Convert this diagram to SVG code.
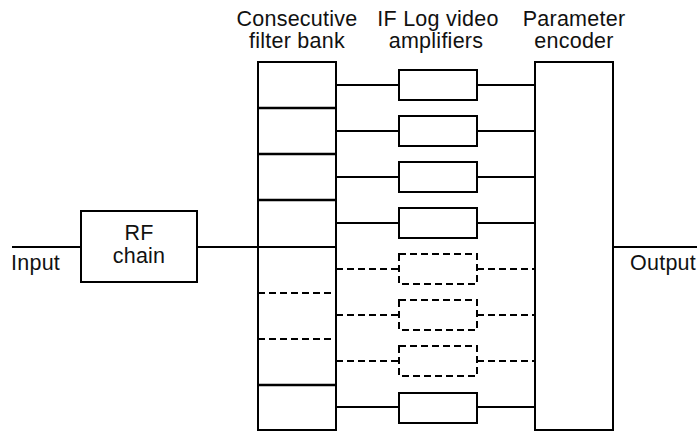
<svg xmlns="http://www.w3.org/2000/svg" width="697" height="432" viewBox="0 0 697 432">
<style>
.box{fill:#fff;stroke:#000;stroke-width:2}
.dbox{fill:#fff;stroke:#000;stroke-width:2;stroke-dasharray:7,4}
.ln{fill:none;stroke:#000;stroke-width:1.8}
.dln{fill:none;stroke:#000;stroke-width:1.8;stroke-dasharray:7,4}
.div{fill:none;stroke:#000;stroke-width:2.6}
.ddiv{fill:none;stroke:#000;stroke-width:2;stroke-dasharray:7,4}
text{font-family:"Liberation Sans",Arial,sans-serif;font-size:21.5px;letter-spacing:0.25px;fill:#111}
.c{text-anchor:middle}
</style>
<rect width="697" height="432" fill="#fff"/>
<g id="connectors">
<line class="ln" x1="12" y1="247" x2="81" y2="247"/>
<line class="ln" x1="197" y1="247" x2="258" y2="247"/>
<line class="ln" x1="613" y1="247" x2="697" y2="247"/>
<line class="ln" x1="336" y1="85" x2="399" y2="85"/><line class="ln" x1="477" y1="85" x2="535" y2="85"/>
<line class="ln" x1="336" y1="131" x2="399" y2="131"/><line class="ln" x1="477" y1="131" x2="535" y2="131"/>
<line class="ln" x1="336" y1="177" x2="399" y2="177"/><line class="ln" x1="477" y1="177" x2="535" y2="177"/>
<line class="ln" x1="336" y1="223" x2="399" y2="223"/><line class="ln" x1="477" y1="223" x2="535" y2="223"/>
<line class="dln" x1="336" y1="269" x2="399" y2="269"/><line class="dln" x1="477" y1="269" x2="535" y2="269"/>
<line class="dln" x1="336" y1="315" x2="399" y2="315"/><line class="dln" x1="477" y1="315" x2="535" y2="315"/>
<line class="dln" x1="336" y1="361" x2="399" y2="361"/><line class="dln" x1="477" y1="361" x2="535" y2="361"/>
<line class="ln" x1="336" y1="407" x2="399" y2="407"/><line class="ln" x1="477" y1="407" x2="535" y2="407"/>
</g>
<g id="input-label"><text x="11" y="270">Input</text></g>
<g id="output-label"><text x="630" y="270">Output</text></g>
<g id="rf-chain">
<rect class="box" x="81" y="211" width="116" height="71"/>
<text class="c" x="139" y="240">RF</text>
<text class="c" x="139" y="263">chain</text>
</g>
<g id="filter-bank">
<text class="c" x="297" y="26">Consecutive</text>
<text class="c" x="297" y="48">filter bank</text>
<rect class="box" x="258" y="62" width="78" height="368"/>
<line class="div" x1="258" y1="108" x2="336" y2="108"/>
<line class="div" x1="258" y1="154" x2="336" y2="154"/>
<line class="div" x1="258" y1="200" x2="336" y2="200"/>
<line class="ln" x1="258" y1="247" x2="336" y2="247"/>
<line class="ddiv" x1="258" y1="293" x2="336" y2="293"/>
<line class="ddiv" x1="258" y1="339" x2="336" y2="339"/>
<line class="div" x1="258" y1="385" x2="336" y2="385"/>
</g>
<g id="amplifiers-title">
<text class="c" x="438" y="26">IF Log video</text>
<text class="c" x="436" y="48">amplifiers</text>
</g>
<g id="amp1"><rect class="box" x="399" y="70" width="78" height="30"/></g>
<g id="amp2"><rect class="box" x="399" y="116" width="78" height="30"/></g>
<g id="amp3"><rect class="box" x="399" y="162" width="78" height="30"/></g>
<g id="amp4"><rect class="box" x="399" y="208" width="78" height="30"/></g>
<g id="amp5"><rect class="dbox" x="399" y="254" width="78" height="30"/></g>
<g id="amp6"><rect class="dbox" x="399" y="300" width="78" height="30"/></g>
<g id="amp7"><rect class="dbox" x="399" y="346" width="78" height="30"/></g>
<g id="amp8"><rect class="box" x="399" y="393" width="78" height="30"/></g>
<g id="encoder">
<text class="c" x="574" y="26">Parameter</text>
<text class="c" x="574" y="48">encoder</text>
<rect class="box" x="535" y="62" width="78" height="368"/>
</g>
</svg>
